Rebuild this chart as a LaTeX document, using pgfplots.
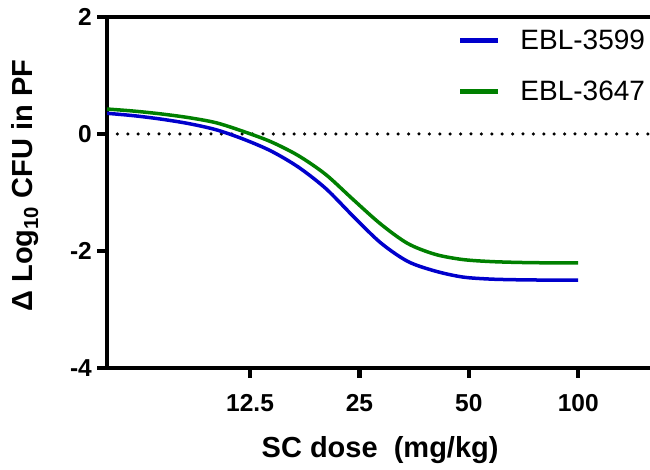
\documentclass[border=0pt]{standalone}
\usepackage{fontspec}
\setmainfont{Liberation Sans}
\usepackage{pgfplots}
\pgfplotsset{compat=1.18}
\definecolor{cblue}{RGB}{0,0,204}
\definecolor{cgreen}{RGB}{0,128,0}
\begin{document}
\begin{tikzpicture}
\begin{axis}[
  name=ax,
  scale only axis,
  width=543pt, height=351pt,
  xmode=log, log basis x=2,
  xmin=5.05, xmax=157.6,
  ymin=-4, ymax=2,
  xtick={12.5,25,50,100},
  ytick={-4,-2,0,2},
  /pgf/number format/.cd, fixed, precision=1, assume math mode=true, /pgfplots/.cd,
  xticklabel={\bfseries\pgfmathparse{2^\tick}\pgfmathprintnumber{\pgfmathresult}},
  yticklabel={\bfseries\pgfmathprintnumber{\tick}},
  axis x line*=box, axis y line*=left,
  xtick pos=bottom, ytick pos=left,
  tick align=outside,
  major tick length=10pt,
  minor tick num=0,
  axis line style={line width=4.5pt, line cap=rect},
  every tick/.style={black, line width=4.5pt},
  tick label style={font=\fontsize{24.5}{28}\selectfont\bfseries},
  xticklabel style={anchor=base, inner sep=0pt, yshift=-34pt},
  yticklabel style={anchor=east, inner sep=0pt, xshift=-5pt},
  xlabel={SC dose\ \ (mg/kg)},
  ylabel={Δ Log\textsubscript{10} CFU in PF},
  label style={font=\fontsize{29}{34}\selectfont\bfseries},
  xlabel style={at={(axis description cs:0.503,0)}, anchor=base, yshift=-90pt},
  ylabel style={at={(axis description cs:-0.151,0.52)}, anchor=center},
  legend style={draw=none, fill=none, at={(axis description cs:0.646,0.964)}, anchor=north west,
    font=\fontsize{28}{34}\selectfont, row sep=30pt, column sep=20pt, inner sep=0pt,
    nodes={inner sep=0pt}},
  legend cell align=left,
  legend image code/.code={\draw[#1, line width=4.5pt] (0pt,0pt) -- (38pt,0pt);},
]
\addplot[black, line width=3.5pt, line cap=round, dash pattern=on 0pt off 10.4pt, forget plot]
  coordinates {(5.05,0) (157.6,0)};
\addplot[cblue, line width=3.5pt, smooth] coordinates {
  (5.05,0.354) (6.0,0.312) (7.14,0.253) (8.49,0.177) (10.1,0.071) (12.0,-0.089)
  (14.3,-0.293) (17.0,-0.568) (20.2,-0.932) (24.0,-1.403) (28.6,-1.860) (34.0,-2.180)
  (40.5,-2.345) (48.1,-2.445) (57.2,-2.480) (68.0,-2.492) (81.0,-2.497) (100,-2.500)};
\addlegendentry{EBL-3599}
\addplot[cgreen, line width=3.5pt, smooth] coordinates {
  (5.05,0.427) (6.0,0.391) (7.14,0.342) (8.49,0.279) (10.1,0.191) (12.0,0.042)
  (14.3,-0.135) (17.0,-0.372) (20.2,-0.693) (24.0,-1.118) (28.6,-1.539) (34.0,-1.874)
  (40.5,-2.059) (48.1,-2.146) (57.2,-2.180) (68.0,-2.195) (81.0,-2.202) (100,-2.205)};
\addlegendentry{EBL-3647}
\end{axis}
\pgfresetboundingbox
\path ([xshift=-107pt,yshift=-102pt]ax.south west) rectangle ([yshift=17pt]ax.north east);
\end{tikzpicture}
\end{document}
